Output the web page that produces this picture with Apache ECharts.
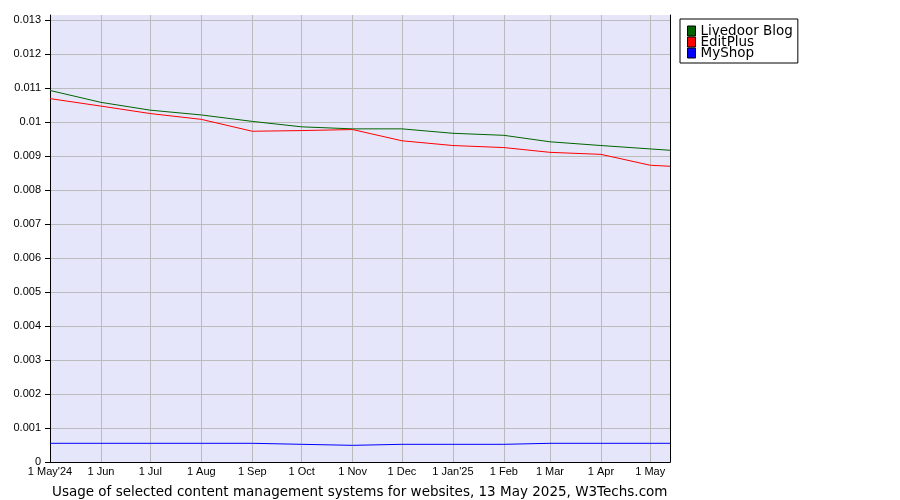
<!DOCTYPE html>
<html>
<head>
<meta charset="utf-8">
<script src="https://cdn.jsdelivr.net/npm/echarts@6/dist/echarts.min.js"></script>
<style>
html,body{margin:0;padding:0;background:#fff;}
#chart{width:900px;height:500px;}
</style>
</head>
<body>
<div id="chart"></div>
<script>
// Sample dates (data points)
const sampleDates = ['2024-05-01','2024-06-01','2024-07-01','2024-08-01','2024-09-01','2024-10-01','2024-11-01','2024-12-01','2025-01-01','2025-02-01','2025-03-01','2025-04-01','2025-05-01','2025-05-13'];
const livedoorBlog = [0.01093,0.01058,0.01035,0.01021,0.01002,0.00986,0.00980,0.00980,0.00967,0.00961,0.00942,0.00931,0.00921,0.00917];
const editPlus     = [0.01069,0.01047,0.01025,0.01008,0.00973,0.00975,0.00978,0.00945,0.00931,0.00925,0.00911,0.00905,0.00873,0.00870];
const myShop       = [0.00055,0.00055,0.00055,0.00055,0.00055,0.00052,0.00049,0.00052,0.00052,0.00052,0.00055,0.00055,0.00055,0.00055];
const monthNames = ['Jan','Feb','Mar','Apr','May','Jun','Jul','Aug','Sep','Oct','Nov','Dec'];
const seriesNames = ['Livedoor Blog','EditPlus','MyShop'];
const startDate = '2024-05-01', endDate = '2025-05-13';
const titleText = 'Usage of selected content management systems for websites, 13 May 2025, W3Techs.com';

// Build daily category axis
function fmt(d){const m=d.getUTCMonth()+1, dd=d.getUTCDate();return d.getUTCFullYear()+'-'+(m<10?'0':'')+m+'-'+(dd<10?'0':'')+dd;}
const days=[];
for(let t=Date.parse(startDate+'T00:00:00Z'); t<=Date.parse(endDate+'T00:00:00Z'); t+=86400000){days.push(fmt(new Date(t)));}
const isMonthStart=(i,v)=>v.slice(8)==='01';
function xLabel(v){
  const m=parseInt(v.slice(5,7),10)-1;
  let s='1 '+monthNames[m];
  if(m===0 || v===startDate) s+="'"+v.slice(2,4);
  return s;
}
function pairs(vals){return sampleDates.map((d,i)=>[d,vals[i]]);}

const chart=echarts.init(document.getElementById('chart'),null,{renderer:'canvas'});
chart.setOption({
  animation:false,
  backgroundColor:'#ffffff',
  title:{text:titleText,left:47,top:480,textStyle:{fontFamily:'DejaVu Sans',fontSize:13.5,fontWeight:'normal',color:'#000'}},
  grid:{left:50,right:230,top:15,bottom:38,show:true,backgroundColor:'#e6e6fa',borderWidth:0},
  legend:{
    orient:'vertical',left:680,top:19,itemGap:-3,itemWidth:8,itemHeight:10,
    padding:[5,5,3,7],borderColor:'#000',borderWidth:1,backgroundColor:'#fff',
    icon:'rect',itemStyle:{borderColor:'#000',borderWidth:1},
    textStyle:{fontFamily:'DejaVu Sans',fontSize:13.5,color:'#000'},
    data:seriesNames
  },
  xAxis:{
    type:'category',data:days,boundaryGap:false,
    axisLine:{show:true,lineStyle:{color:'#000',width:1}},
    axisTick:{show:false},
    axisLabel:{interval:isMonthStart,formatter:xLabel,fontFamily:'Liberation Sans',fontSize:11,color:'#000',margin:4},
    splitLine:{show:true,interval:isMonthStart,lineStyle:{color:'#bbbbbb',width:1}}
  },
  yAxis:[{
    type:'value',min:0,max:0.01315,interval:0.001,
    axisLine:{show:true,lineStyle:{color:'#000',width:1}},
    axisTick:{show:true,length:5,lineStyle:{color:'#000'}},
    axisLabel:{showMaxLabel:false,fontFamily:'Liberation Sans',fontSize:11,color:'#000',margin:9,
      formatter:v=>String(parseFloat(v.toFixed(4)))},
    splitLine:{show:true,showMaxLine:false,showMinLine:false,lineStyle:{color:'#bbbbbb',width:1}}
  },{
    type:'value',position:'right',min:0,max:0.01315,
    axisLine:{show:true,lineStyle:{color:'#000',width:1}},
    axisTick:{show:false},axisLabel:{show:false},splitLine:{show:false}
  }],
  series:[
    {name:seriesNames[0],type:'line',data:pairs(livedoorBlog),showSymbol:false,symbol:'none',lineStyle:{color:'#006400',width:1},itemStyle:{color:'#006400'}},
    {name:seriesNames[1],type:'line',data:pairs(editPlus),showSymbol:false,symbol:'none',lineStyle:{color:'#ff0000',width:1},itemStyle:{color:'#ff0000'}},
    {name:seriesNames[2],type:'line',data:pairs(myShop),showSymbol:false,symbol:'none',lineStyle:{color:'#0000ff',width:1},itemStyle:{color:'#0000ff'}}
  ]
});
</script>
</body>
</html>
